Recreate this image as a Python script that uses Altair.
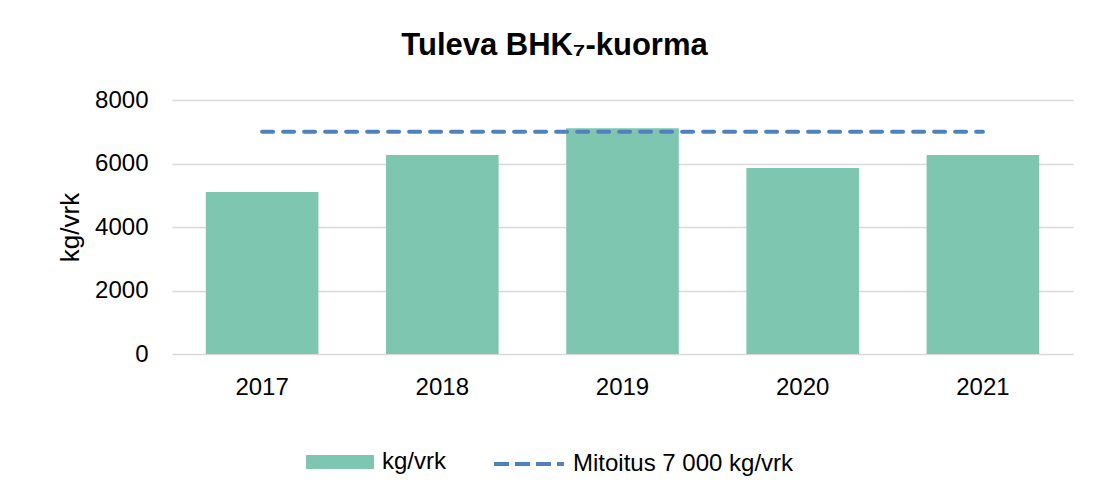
import altair as alt
import pandas as pd

years = ["2017", "2018", "2019", "2020", "2021"]
load_values = [5100, 6270, 7110, 5860, 6270]
design_value = [7000, 7000, 7000, 7000, 7000]
bar_series = "kg/vrk"
line_series = "Mitoitus 7 000 kg/vrk"
y_ticks = [0, 2000, 4000, 6000, 8000]

FONT = "Liberation Sans"
BAR_COLOR = "#7FC6B1"
LINE_COLOR = "#4F81BD"
GRID_COLOR = "#D9D9D9"

bars_df = pd.DataFrame({"year": years, "value": load_values, "series": bar_series})
line_df = pd.DataFrame({"year": years, "value": design_value, "series": line_series})

x_enc = alt.X(
    "year:N",
    title=None,
    scale=alt.Scale(paddingInner=0.375, paddingOuter=0.1875),
    axis=alt.Axis(
        labelAngle=0,
        labelFont=FONT,
        labelFontSize=24,
        labelColor="#000000",
        labelPadding=21,
        ticks=False,
        tickSize=0,
        domain=False,
        grid=False,
    ),
)

y_enc = alt.Y(
    "value:Q",
    title="kg/vrk",
    scale=alt.Scale(domain=[0, 8000], nice=False),
    axis=alt.Axis(
        values=y_ticks,
        format="d",
        labelFont=FONT,
        labelFontSize=24,
        labelColor="#000000",
        labelPadding=24,
        ticks=False,
        tickSize=0,
        domain=False,
        grid=True,
        gridColor=GRID_COLOR,
        gridWidth=1.5,
        titleFont=FONT,
        titleFontSize=26,
        titleFontWeight="normal",
        titleColor="#000000",
        titlePadding=11,
    ),
)

bars = alt.Chart(bars_df).mark_bar(strokeWidth=0).encode(
    x=x_enc,
    y=y_enc,
    fill=alt.Fill(
        "series:N",
        scale=alt.Scale(domain=[bar_series], range=[BAR_COLOR]),
        legend=alt.Legend(
            title=None,
            orient="none",
            legendX=134,
            legendY=328,
            padding=0,
            symbolType="M-1,-0.206H1V0.206H-1Z",
            symbolSize=4624,
            symbolStrokeWidth=0,
            labelFont=FONT,
            labelFontSize=24,
            labelColor="#000000",
            labelOffset=8,
            labelLimit=400,
        ),
    ),
)

line = alt.Chart(line_df).mark_line(
    strokeWidth=4, strokeDash=[11, 10], strokeCap="round"
).encode(
    x=alt.X("year:N"),
    y=alt.Y("value:Q"),
    stroke=alt.Stroke(
        "series:N",
        scale=alt.Scale(domain=[line_series], range=[LINE_COLOR]),
        legend=alt.Legend(
            title=None,
            orient="none",
            legendX=320,
            legendY=327,
            padding=0,
            symbolType="stroke",
            symbolSize=4900,
            symbolStrokeWidth=4,
            symbolDash=[15, 6],
            labelFont=FONT,
            labelFontSize=24,
            labelColor="#000000",
            labelOffset=7,
            labelLimit=400,
        ),
    ),
)

chart = (
    alt.layer(bars, line)
    .properties(
        width=901,
        height=254,
        background="#FFFFFF",
        title=alt.TitleParams(
            text="Tuleva BHK₇-kuorma",
            font=FONT,
            fontSize=31,
            fontWeight="bold",
            color="#000000",
            anchor="middle",
            frame="group",
            dx=-68,
            offset=26,
        ),
        autosize=alt.AutoSizeParams(type="none"),
        padding={"left": 164, "top": 92, "right": 13, "bottom": 125},
    )
    .configure_view(strokeWidth=0, stroke="transparent")
)

chart.save("out.html", embed_options={"renderer": "svg", "actions": False})
